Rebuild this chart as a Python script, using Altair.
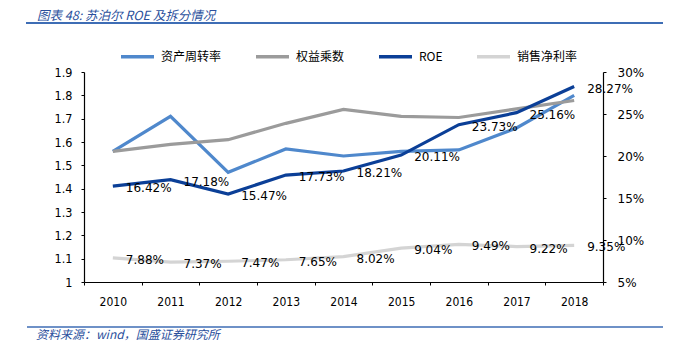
import altair as alt
import pandas as pd

years = ["2010", "2011", "2012", "2013", "2014", "2015", "2016", "2017", "2018"]
asset_turnover = [1.56, 1.71, 1.47, 1.57, 1.54, 1.56, 1.566, 1.66, 1.80]
equity_multiplier = [1.56, 1.59, 1.61, 1.68, 1.74, 1.71, 1.705, 1.742, 1.778]
roe = [16.42, 17.18, 15.47, 17.73, 18.21, 20.11, 23.73, 25.16, 28.27]
net_margin = [7.88, 7.37, 7.47, 7.65, 8.02, 9.04, 9.49, 9.22, 9.35]

series_names = ["资产周转率", "权益乘数", "ROE", "销售净利率"]
series_colors = ["#4F88CC", "#9B9B9B", "#0B3F97", "#D4D4D4"]

left_ticks = [1.0, 1.1, 1.2, 1.3, 1.4, 1.5, 1.6, 1.7, 1.8, 1.9]
right_ticks = [5, 10, 15, 20, 25, 30]

title_text = "图表 48: 苏泊尔 ROE 及拆分情况"
source_text = "资料来源：wind，国盛证券研究所"

rows = []
for i, y in enumerate(years):
    rows.append({"year": y, "series": series_names[0], "value": asset_turnover[i], "side": "L"})
    rows.append({"year": y, "series": series_names[1], "value": equity_multiplier[i], "side": "L"})
    rows.append({"year": y, "series": series_names[2], "value": roe[i], "side": "R"})
    rows.append({"year": y, "series": series_names[3], "value": net_margin[i], "side": "R"})
df = pd.DataFrame(rows)
df["label"] = df["value"].map(lambda v: f"{v:.2f}%")

W, H = 519, 210
PL, PT = 76, 64

base = alt.Chart(df)

x_enc = alt.X(
    "year:N",
    sort=years,
    scale=alt.Scale(paddingInner=0, paddingOuter=0),
    axis=alt.Axis(
        title=None,
        labelAngle=0,
        labelFont="DejaVu Sans Condensed",
        labelFontSize=12,
        labelColor="#000000",
        labelPadding=11,
        domainColor="#000000",
        domainWidth=1.2,
        tickColor="#000000",
        tickSize=3,
        tickBand="extent",
    ),
)

color_enc = alt.Color(
    "series:N",
    scale=alt.Scale(domain=series_names, range=series_colors),
    sort=series_names,
    legend=alt.Legend(
        title=None,
        orient="none",
        direction="horizontal",
        legendX=35,
        legendY=-34,
        symbolType="stroke",
        symbolSize=1089,
        symbolStrokeWidth=3.5,
        labelFont="Noto Sans CJK SC",
        labelFontSize=12,
        labelColor="#000000",
        labelOffset=5,
        columnPadding=27,
    ),
)

left_lines = base.transform_filter(alt.datum.side == "L").mark_line(strokeWidth=3.2).encode(
    x=x_enc,
    y=alt.Y(
        "value:Q",
        scale=alt.Scale(domain=[1.0, 1.9], nice=False, zero=False),
        axis=alt.Axis(
            title=None,
            orient="left",
            values=left_ticks,
            labelExpr="datum.value == 1 ? '1' : format(datum.value, '.1f')",
            labelFont="DejaVu Sans Condensed",
            labelFontSize=12.5,
            labelColor="#000000",
            labelPadding=9,
            domainColor="#000000",
            domainWidth=1.2,
            tickColor="#000000",
            tickSize=3,
            grid=False,
        ),
    ),
    color=color_enc,
    detail="series:N",
)

right_y = alt.Y(
    "value:Q",
    scale=alt.Scale(domain=[5, 30], nice=False, zero=False),
    axis=alt.Axis(
        title=None,
        orient="right",
        values=right_ticks,
        labelExpr="datum.value + '%'",
        labelFont="DejaVu Sans",
        labelFontSize=12,
        labelColor="#000000",
        labelPadding=11,
        domainColor="#000000",
        domainWidth=1.2,
        tickColor="#000000",
        tickSize=3,
        grid=False,
    ),
)

right_lines = base.transform_filter(alt.datum.side == "R").mark_line(strokeWidth=3.2).encode(
    x=alt.X("year:N", sort=years),
    y=right_y,
    color=color_enc,
    detail="series:N",
)

right_text = base.transform_filter(alt.datum.side == "R").mark_text(
    align="left", baseline="middle", dx=13, dy=2,
    font="DejaVu Sans", fontSize=12, color="#000000",
).encode(
    x=alt.X("year:N", sort=years),
    y=right_y,
    text="label:N",
)

right = alt.layer(right_lines, right_text)

# decorations: title, rules, source
deco_df = pd.DataFrame({"t": [title_text]})
title_mark = alt.Chart(deco_df).mark_text(
    align="left", baseline="middle", font="Noto Sans CJK SC", fontSize=12.5,
    fontStyle="italic", color="#2A4F9C",
).encode(x=alt.value(-47), y=alt.value(-56), text="t:N")

top_rule = alt.Chart(deco_df).mark_rule(color="#3E6DB5", strokeWidth=2).encode(
    x=alt.value(-58), x2=alt.value(600), y=alt.value(-49)
)
bottom_rule = alt.Chart(deco_df).mark_rule(color="#3E6DB5", strokeWidth=1.5).encode(
    x=alt.value(-57), x2=alt.value(600), y=alt.value(255)
)
src_df = pd.DataFrame({"t": [source_text]})
source_mark = alt.Chart(src_df).mark_text(
    align="left", baseline="middle", font="Noto Sans CJK SC", fontSize=12,
    fontStyle="italic", color="#2A4F9C",
).encode(x=alt.value(-48), y=alt.value(263), text="t:N")

chart = alt.layer(
    left_lines, right, title_mark, top_rule, bottom_rule, source_mark
).resolve_scale(
    y="independent", color="shared"
).properties(
    width=W,
    height=H,
    autosize=alt.AutoSizeParams(type="none"),
    padding={"left": PL, "top": PT, "right": 60, "bottom": 62},
    background="#FFFFFF",
).configure_view(
    stroke=None
)

chart.save("out.html", embed_options={"renderer": "svg", "actions": False})
